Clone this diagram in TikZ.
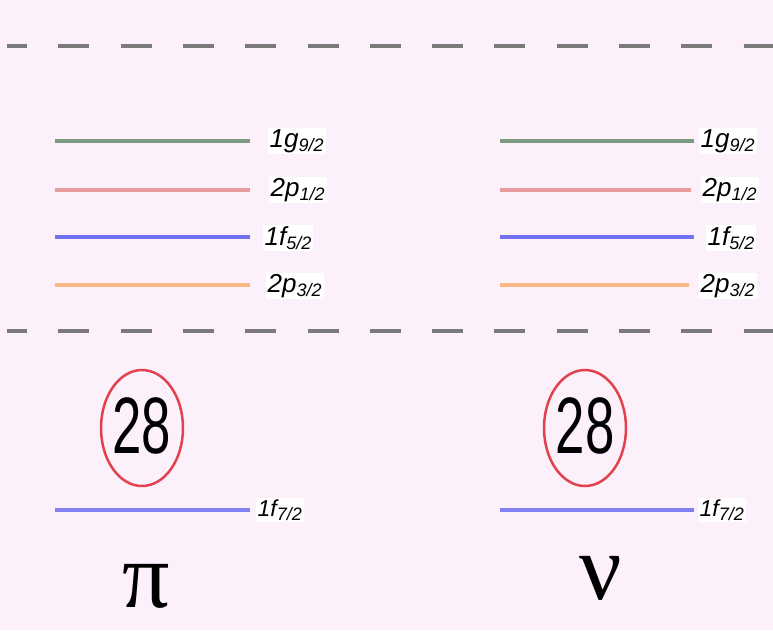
\documentclass[tikz,border=0pt]{standalone}
\usepackage{fontspec}
\setmainfont{Liberation Serif}
\setsansfont{Liberation Sans}
\usetikzlibrary{shapes.geometric}
\definecolor{bgpink}{HTML}{FCF0FA}
\definecolor{dashgray}{HTML}{7A7A7A}
\definecolor{lvgreen}{HTML}{7E9A80}
\definecolor{lvred}{HTML}{E89A9C}
\definecolor{lvblue}{HTML}{7272F0}
\definecolor{lvorange}{HTML}{F8B884}
\definecolor{ringred}{HTML}{E2424E}
\tikzset{
  sep/.style={draw=dashgray, line width=4pt, dash pattern=on 31pt off 31.3pt, dash phase=11pt},
  lev/.style={line width=3.5pt},
  lab/.style={anchor=west, fill=white, inner sep=1.5pt, font=\sffamily\itshape\fontsize{26}{26}\selectfont},
  ring/.style={ellipse, draw=ringred, line width=2.5pt, minimum width=82pt, minimum height=116pt, inner sep=0pt},
  greek/.style={font=\rmfamily\fontsize{94}{94}\selectfont}
}
\newcommand{\lvl}[2]{#1\textsubscript{\fontsize{18}{18}\selectfont #2}}
\begin{document}
\begin{tikzpicture}[x=1pt,y=-1pt]
\useasboundingbox (0,0) rectangle (773,630);
\fill[bgpink] (0,0) rectangle (773,630);
% separators
\coordinate (s1a) at (7,46); \coordinate (s1b) at (773,46);
\coordinate (s2a) at (7,331); \coordinate (s2b) at (773,331);
\draw[sep] (s1a) -- (s1b);
\draw[sep] (s2a) -- (s2b);
% proton levels
\coordinate (pg1) at (55,141); \coordinate (pg2) at (250,141);
\coordinate (pr1) at (55,190); \coordinate (pr2) at (250,190);
\coordinate (pb1) at (55,237); \coordinate (pb2) at (250,237);
\coordinate (po1) at (55,285); \coordinate (po2) at (250,285);
\coordinate (pf1) at (55,510); \coordinate (pf2) at (250,510);
\draw[lev, lvgreen] (pg1) -- (pg2);
\draw[lev, lvred] (pr1) -- (pr2);
\draw[lev, lvblue] (pb1) -- (pb2);
\draw[lev, lvorange] (po1) -- (po2);
\draw[lev, lvblue!90!white] (pf1) -- (pf2);
\node[lab] (lpg) at (268,141) {\lvl{1g}{9/2}};
\node[lab] (lpr) at (269,190) {\lvl{2p}{1/2}};
\node[lab] (lpb) at (263,238) {\lvl{1f}{5/2}};
\node[lab] (lpo) at (266,286) {\lvl{2p}{3/2}};
\node[lab, font=\sffamily\itshape\fontsize{23}{23}\selectfont] (lpf) at (256,510) {\lvl{1f}{7/2}};
% neutron levels
\coordinate (ng1) at (500,141); \coordinate (ng2) at (694,141);
\coordinate (nr1) at (500,190); \coordinate (nr2) at (691,190);
\coordinate (nb1) at (500,237); \coordinate (nb2) at (694,237);
\coordinate (no1) at (500,285); \coordinate (no2) at (689,285);
\coordinate (nf1) at (500,510); \coordinate (nf2) at (694,510);
\draw[lev, lvgreen] (ng1) -- (ng2);
\draw[lev, lvred] (nr1) -- (nr2);
\draw[lev, lvblue] (nb1) -- (nb2);
\draw[lev, lvorange] (no1) -- (no2);
\draw[lev, lvblue!90!white] (nf1) -- (nf2);
\node[lab] (lng) at (699,141) {\lvl{1g}{9/2}};
\node[lab] (lnr) at (701,190) {\lvl{2p}{1/2}};
\node[lab] (lnb) at (706,238) {\lvl{1f}{5/2}};
\node[lab] (lno) at (699,286) {\lvl{2p}{3/2}};
\node[lab, font=\sffamily\itshape\fontsize{23}{23}\selectfont] (lnf) at (698,510) {\lvl{1f}{7/2}};
% magic number rings
\node[ring] (rp) at (142,428) {};
\node (tp) at (142,426) {\sffamily\scalebox{0.66}[1]{\fontsize{80}{80}\selectfont 28}};
\node[ring] (rn) at (585,428) {};
\node (tn) at (585,426) {\sffamily\scalebox{0.66}[1]{\fontsize{80}{80}\selectfont 28}};
% particle labels
\node[greek] (pi) at (146,586) {π};
\node[greek] (nu) at (601,578) {ν};
\end{tikzpicture}
\end{document}
